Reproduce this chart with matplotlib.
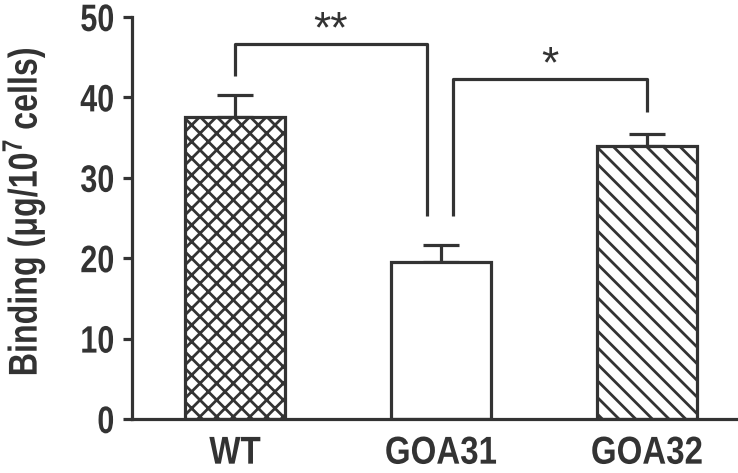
import matplotlib
matplotlib.use("Agg")
import numpy as np
import matplotlib.pyplot as plt
from matplotlib.patheffects import AbstractPathEffect
from matplotlib.transforms import Affine2D
from matplotlib.path import Path

# ---- data ----
categories = ["WT", "GOA31", "GOA32"]
values = [37.6, 19.5, 34.0]
errors = [2.7, 2.2, 1.5]
hatches = ["xx", "", "\\\\"]
yticks = [0, 10, 20, 30, 40, 50]

# significance brackets: (x_left, x_right, y_left_bottom, y_right_bottom, y_top, label, label_y)
brackets = [
    (0.0, 0.932, 42.6, 25.2, 46.7, "**", 46.8),
    (1.058, 2.0, 25.2, 38.2, 42.3, "*", 42.5),
]

fam = "Liberation Sans"
plt.rcParams["font.family"] = [fam, "DejaVu Sans"]
plt.rcParams["mathtext.fontset"] = "custom"
plt.rcParams["mathtext.rm"] = fam + ":bold"
plt.rcParams["mathtext.it"] = fam + ":bold"
plt.rcParams["mathtext.bf"] = fam + ":bold"
plt.rcParams["hatch.linewidth"] = 2.0
plt.rcParams["hatch.color"] = "black"


class Condense(AbstractPathEffect):
    """Horizontally condense glyph outlines (narrow font look)."""

    def __init__(self, sx=0.82, anchor="center"):
        super().__init__()
        self.sx = sx
        self.anchor = anchor

    def draw_path(self, renderer, gc, tpath, affine, rgbFace=None):
        v = tpath.vertices
        codes = tpath.codes
        if codes is not None:
            v = v[codes != Path.CLOSEPOLY]
        if len(v):
            lo, hi = v[:, 0].min(), v[:, 0].max()
        else:
            lo = hi = 0.0
        if self.anchor == "right":
            c = hi
        elif self.anchor == "left":
            c = lo
        else:
            c = (lo + hi) / 2
        t = Affine2D().translate(-c, 0).scale(self.sx, 1).translate(c, 0) + affine
        renderer.draw_path(gc, tpath, t, rgbFace)


ink = "#333333"
lw = 2.3

fig = plt.figure(figsize=(7.38, 4.73), dpi=100)
ax = fig.add_axes([132 / 738, 54 / 473, 606 / 738, 402 / 473])

x = list(range(len(categories)))
bars = ax.bar(x, values, width=0.485, color="white", edgecolor=ink,
              linewidth=lw, zorder=2)
for b, h in zip(bars, hatches):
    if h:
        b.set_hatch(h)
ax.errorbar(x, values, yerr=[[0] * len(errors), errors], fmt="none",
            ecolor=ink, elinewidth=lw, capsize=13.3, capthick=lw, zorder=1)

for xl, xr, yl, yr, yt, lab, ly in brackets:
    ax.plot([xl, xl, xr, xr], [yl, yt, yt, yr], color=ink, lw=lw,
            clip_on=False, solid_capstyle="butt", zorder=3)
    ax.text((xl + xr) / 2, ly, lab, ha="center", va="baseline",
            fontsize=32, color=ink, clip_on=False)

ax.set_xlim(-0.5, 2.442)
ax.set_ylim(0, 50)
ax.set_yticks(yticks)
ax.set_xticks(x)
ax.set_xticklabels(categories)
for sp in ["top", "right"]:
    ax.spines[sp].set_visible(False)
for sp in ["left", "bottom"]:
    ax.spines[sp].set_color(ink)
    ax.spines[sp].set_linewidth(lw)
ax.tick_params(axis="y", length=6.5, width=lw, color=ink, pad=6,
               labelsize=27.5, labelcolor=ink)
ax.tick_params(axis="x", length=0, pad=12, labelsize=28, labelcolor=ink)
for t in ax.get_yticklabels():
    t.set_fontweight("bold")
    t.set_path_effects([Condense(0.8, "right")])
for t in ax.get_xticklabels():
    t.set_fontweight("bold")
    t.set_path_effects([Condense(0.85, "center")])

ax.set_ylabel(r"Binding (μg/10$^{7}$ cells)", fontsize=29, fontweight="bold",
              color=ink, path_effects=[Condense(0.8, "center")])
ax.yaxis.set_label_coords((47 - 132) / 606, (419 - 212) / 402)

fig.savefig("out.png", dpi=100)
